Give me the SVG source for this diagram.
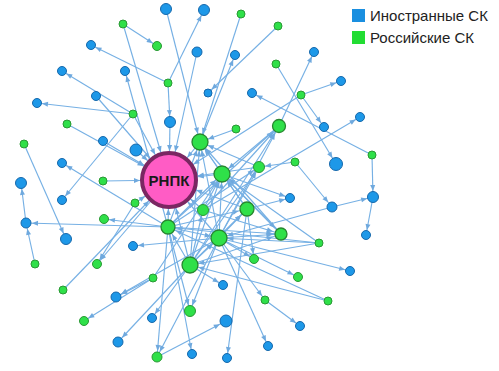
<svg xmlns="http://www.w3.org/2000/svg" width="499" height="371" viewBox="0 0 499 371">
<style>
.e{stroke:#76b0e4;stroke-width:1.15;fill:none}
.m4{marker-end:url(#m4)}.m5{marker-end:url(#m5)}.m6{marker-end:url(#m6)}.m8{marker-end:url(#m8)}.mR{marker-end:url(#mR)}
.b{fill:#1d98e8;stroke:#1668ab;stroke-width:1}
.g{fill:#2fe049;stroke:#2a9834;stroke-width:1}
.h{fill:#2fe049;stroke:#27862f;stroke-width:1.3}
.lg{font-family:"Liberation Sans",Arial,sans-serif;font-size:15px;fill:#222}
</style>
<defs>
<marker id="m4" markerUnits="userSpaceOnUse" markerWidth="8" markerHeight="6" refX="11" refY="2.5" orient="auto" overflow="visible"><path d="M0,0 L6,2.5 L0,5 Z" fill="#6fa9de"/></marker>
<marker id="m5" markerUnits="userSpaceOnUse" markerWidth="8" markerHeight="6" refX="12" refY="2.5" orient="auto" overflow="visible"><path d="M0,0 L6,2.5 L0,5 Z" fill="#6fa9de"/></marker>
<marker id="m6" markerUnits="userSpaceOnUse" markerWidth="8" markerHeight="6" refX="13" refY="2.5" orient="auto" overflow="visible"><path d="M0,0 L6,2.5 L0,5 Z" fill="#6fa9de"/></marker>
<marker id="m8" markerUnits="userSpaceOnUse" markerWidth="8" markerHeight="6" refX="14.5" refY="2.5" orient="auto" overflow="visible"><path d="M0,0 L6,2.5 L0,5 Z" fill="#6fa9de"/></marker>
<marker id="mR" markerUnits="userSpaceOnUse" markerWidth="8" markerHeight="6" refX="35" refY="2.5" orient="auto" overflow="visible"><path d="M0,0 L6,2.5 L0,5 Z" fill="#6fa9de"/></marker>
</defs>
<g id="connectors" class="e">
<line x1="123" y1="24" x2="157" y2="46" class="m4"/>
<line x1="123" y1="24" x2="169" y2="180" class="mR"/>
<line x1="166" y1="9" x2="200" y2="142" class="m8"/>
<line x1="168" y1="83" x2="204" y2="10" class="m5"/>
<line x1="168" y1="83" x2="91" y2="45" class="m4"/>
<line x1="168" y1="83" x2="170" y2="122" class="m5"/>
<line x1="170" y1="122" x2="169" y2="180" class="mR"/>
<line x1="197" y1="52" x2="169" y2="180" class="mR"/>
<line x1="241" y1="14" x2="200" y2="142" class="m8"/>
<line x1="200" y1="142" x2="235" y2="55" class="m4"/>
<line x1="278" y1="26" x2="208" y2="93" class="m4"/>
<line x1="133" y1="114" x2="62" y2="71" class="m4"/>
<line x1="133" y1="114" x2="37" y2="103" class="m4"/>
<line x1="133" y1="114" x2="169" y2="180" class="mR"/>
<line x1="133" y1="114" x2="62" y2="200" class="m4"/>
<line x1="168" y1="227" x2="125" y2="71" class="m4"/>
<line x1="96" y1="96" x2="169" y2="180" class="mR"/>
<line x1="67" y1="124" x2="169" y2="180" class="mR"/>
<line x1="103" y1="141" x2="169" y2="180" class="mR"/>
<line x1="136" y1="150" x2="169" y2="180" class="mR"/>
<line x1="24" y1="144" x2="66" y2="239" class="m5"/>
<line x1="168" y1="227" x2="62" y2="163" class="m4"/>
<line x1="103" y1="181" x2="169" y2="180" class="mR"/>
<line x1="26" y1="223" x2="21" y2="183" class="m5"/>
<line x1="168" y1="227" x2="26" y2="223" class="m5"/>
<line x1="35" y1="264" x2="26" y2="223" class="m5"/>
<line x1="168" y1="227" x2="104" y2="219" class="m4"/>
<line x1="169" y1="180" x2="97" y2="264" class="m4"/>
<line x1="135" y1="203" x2="97" y2="264" class="m4"/>
<line x1="63" y1="290" x2="169" y2="180" class="mR"/>
<line x1="219" y1="238" x2="116" y2="297" class="m5"/>
<line x1="153" y1="278" x2="116" y2="297" class="m5"/>
<line x1="153" y1="278" x2="222" y2="174" class="m8"/>
<line x1="219" y1="238" x2="133" y2="246" class="m4"/>
<line x1="190" y1="265" x2="152" y2="318" class="m4"/>
<line x1="190" y1="265" x2="118" y2="342" class="m5"/>
<line x1="153" y1="278" x2="84" y2="321" class="m4"/>
<line x1="168" y1="227" x2="157" y2="357" class="m5"/>
<line x1="219" y1="238" x2="157" y2="357" class="m5"/>
<line x1="168" y1="227" x2="192" y2="354" class="m4"/>
<line x1="247" y1="209" x2="227" y2="358" class="m4"/>
<line x1="157" y1="357" x2="226" y2="321" class="m6"/>
<line x1="190" y1="265" x2="223" y2="285" class="m4"/>
<line x1="168" y1="227" x2="190" y2="311" class="m5"/>
<line x1="219" y1="238" x2="190" y2="311" class="m5"/>
<line x1="219" y1="238" x2="265" y2="300" class="m4"/>
<line x1="265" y1="300" x2="300" y2="326" class="m4"/>
<line x1="219" y1="238" x2="268" y2="346" class="m4"/>
<line x1="328" y1="301" x2="168" y2="227" class="m8"/>
<line x1="328" y1="301" x2="190" y2="265" class="m8"/>
<line x1="219" y1="238" x2="298" y2="277" class="m4"/>
<line x1="219" y1="238" x2="350" y2="271" class="m4"/>
<line x1="319" y1="243" x2="219" y2="238" class="m8"/>
<line x1="319" y1="243" x2="168" y2="227" class="m8"/>
<line x1="319" y1="243" x2="190" y2="265" class="m8"/>
<line x1="319" y1="243" x2="222" y2="174" class="m8"/>
<line x1="247" y1="209" x2="254" y2="259" class="m4"/>
<line x1="222" y1="174" x2="290" y2="198" class="m4"/>
<line x1="247" y1="209" x2="290" y2="198" class="m4"/>
<line x1="295" y1="162" x2="332" y2="207" class="m5"/>
<line x1="332" y1="207" x2="373" y2="197" class="m5"/>
<line x1="332" y1="207" x2="219" y2="238" class="m8"/>
<line x1="372" y1="155" x2="373" y2="197" class="m5"/>
<line x1="373" y1="197" x2="366" y2="235" class="m4"/>
<line x1="372" y1="155" x2="252" y2="93" class="m4"/>
<line x1="203" y1="210" x2="360" y2="117" class="m4"/>
<line x1="295" y1="162" x2="259" y2="167" class="m5"/>
<line x1="276" y1="64" x2="336" y2="164" class="m6"/>
<line x1="301" y1="95" x2="324" y2="127" class="m4"/>
<line x1="301" y1="95" x2="341" y2="81" class="m4"/>
<line x1="279" y1="126" x2="314" y2="52" class="m4"/>
<line x1="301" y1="95" x2="169" y2="180" class="mR"/>
<line x1="236" y1="129" x2="200" y2="142" class="m8"/>
<line x1="200" y1="142" x2="169" y2="180" class="mR"/>
<line x1="222" y1="174" x2="169" y2="180" class="mR"/>
<line x1="168" y1="227" x2="169" y2="180" class="mR"/>
<line x1="219" y1="238" x2="169" y2="180" class="mR"/>
<line x1="190" y1="265" x2="169" y2="180" class="mR"/>
<line x1="203" y1="210" x2="169" y2="180" class="mR"/>
<line x1="259" y1="167" x2="169" y2="180" class="mR"/>
<line x1="135" y1="203" x2="169" y2="180" class="mR"/>
<line x1="247" y1="209" x2="169" y2="180" class="mR"/>
<line x1="222" y1="174" x2="200" y2="142" class="m8"/>
<line x1="168" y1="227" x2="200" y2="142" class="m8"/>
<line x1="219" y1="238" x2="200" y2="142" class="m8"/>
<line x1="190" y1="265" x2="200" y2="142" class="m8"/>
<line x1="247" y1="209" x2="200" y2="142" class="m8"/>
<line x1="259" y1="167" x2="200" y2="142" class="m8"/>
<line x1="281" y1="234" x2="200" y2="142" class="m8"/>
<line x1="168" y1="227" x2="222" y2="174" class="m8"/>
<line x1="219" y1="238" x2="222" y2="174" class="m8"/>
<line x1="190" y1="265" x2="222" y2="174" class="m8"/>
<line x1="247" y1="209" x2="222" y2="174" class="m8"/>
<line x1="281" y1="234" x2="222" y2="174" class="m8"/>
<line x1="203" y1="210" x2="222" y2="174" class="m8"/>
<line x1="219" y1="238" x2="279" y2="126" class="m8"/>
<line x1="190" y1="265" x2="279" y2="126" class="m8"/>
<line x1="168" y1="227" x2="279" y2="126" class="m8"/>
<line x1="203" y1="210" x2="279" y2="126" class="m8"/>
<line x1="168" y1="227" x2="247" y2="209" class="m8"/>
<line x1="219" y1="238" x2="247" y2="209" class="m8"/>
<line x1="190" y1="265" x2="247" y2="209" class="m8"/>
<line x1="168" y1="227" x2="281" y2="234" class="m8"/>
<line x1="219" y1="238" x2="281" y2="234" class="m8"/>
<line x1="190" y1="265" x2="281" y2="234" class="m8"/>
<line x1="203" y1="210" x2="281" y2="234" class="m8"/>
<line x1="222" y1="174" x2="281" y2="234" class="m8"/>
<line x1="190" y1="265" x2="219" y2="238" class="m8"/>
<line x1="168" y1="227" x2="219" y2="238" class="m8"/>
<line x1="190" y1="265" x2="168" y2="227" class="m8"/>
<line x1="219" y1="238" x2="259" y2="167" class="m5"/>
<line x1="190" y1="265" x2="259" y2="167" class="m5"/>
<line x1="168" y1="227" x2="259" y2="167" class="m5"/>
<line x1="219" y1="238" x2="254" y2="259" class="m4"/>
<line x1="190" y1="265" x2="203" y2="210" class="m5"/>
<line x1="279" y1="126" x2="222" y2="174" class="m8"/>
</g>
<g id="b1"><circle class="b" cx="166" cy="9" r="5.5"/></g>
<g id="b2"><circle class="b" cx="204" cy="10" r="5.5"/></g>
<g id="b3"><circle class="b" cx="91" cy="45" r="4.5"/></g>
<g id="b4"><circle class="b" cx="197" cy="52" r="5"/></g>
<g id="b5"><circle class="b" cx="235" cy="55" r="4.5"/></g>
<g id="b6"><circle class="b" cx="62" cy="71" r="4.5"/></g>
<g id="b7"><circle class="b" cx="125" cy="71" r="4.5"/></g>
<g id="b8"><circle class="b" cx="208" cy="93" r="4"/></g>
<g id="b9"><circle class="b" cx="252" cy="93" r="4.5"/></g>
<g id="b10"><circle class="b" cx="96" cy="96" r="4.5"/></g>
<g id="b11"><circle class="b" cx="37" cy="103" r="4.5"/></g>
<g id="b12"><circle class="b" cx="170" cy="122" r="5.5"/></g>
<g id="b13"><circle class="b" cx="103" cy="141" r="4.5"/></g>
<g id="b14"><circle class="b" cx="136" cy="150" r="6"/></g>
<g id="b15"><circle class="b" cx="62" cy="163" r="4.5"/></g>
<g id="b16"><circle class="b" cx="21" cy="183" r="5.5"/></g>
<g id="b17"><circle class="b" cx="62" cy="200" r="4.5"/></g>
<g id="b18"><circle class="b" cx="26" cy="223" r="5"/></g>
<g id="b19"><circle class="b" cx="66" cy="239" r="5.5"/></g>
<g id="b20"><circle class="b" cx="133" cy="246" r="4.5"/></g>
<g id="b21"><circle class="b" cx="116" cy="297" r="5"/></g>
<g id="b22"><circle class="b" cx="152" cy="318" r="4.5"/></g>
<g id="b23"><circle class="b" cx="118" cy="342" r="5"/></g>
<g id="b24"><circle class="b" cx="192" cy="354" r="4.5"/></g>
<g id="b25"><circle class="b" cx="227" cy="358" r="4.5"/></g>
<g id="b26"><circle class="b" cx="226" cy="321" r="6"/></g>
<g id="b27"><circle class="b" cx="223" cy="285" r="4.5"/></g>
<g id="b28"><circle class="b" cx="268" cy="346" r="4.5"/></g>
<g id="b29"><circle class="b" cx="300" cy="326" r="4.5"/></g>
<g id="b30"><circle class="b" cx="350" cy="271" r="4.5"/></g>
<g id="b31"><circle class="b" cx="366" cy="235" r="4.5"/></g>
<g id="b32"><circle class="b" cx="332" cy="207" r="5"/></g>
<g id="b33"><circle class="b" cx="373" cy="197" r="5.5"/></g>
<g id="b34"><circle class="b" cx="290" cy="198" r="4.5"/></g>
<g id="b35"><circle class="b" cx="336" cy="164" r="6.5"/></g>
<g id="b36"><circle class="b" cx="324" cy="127" r="4.5"/></g>
<g id="b37"><circle class="b" cx="360" cy="117" r="4.5"/></g>
<g id="b38"><circle class="b" cx="341" cy="81" r="4.5"/></g>
<g id="b39"><circle class="b" cx="314" cy="52" r="4.5"/></g>
<g id="g1"><circle class="g" cx="123" cy="24" r="4"/></g>
<g id="g2"><circle class="g" cx="157" cy="46" r="4.5"/></g>
<g id="g3"><circle class="g" cx="241" cy="14" r="4"/></g>
<g id="g4"><circle class="g" cx="278" cy="26" r="4"/></g>
<g id="g5"><circle class="g" cx="168" cy="83" r="4"/></g>
<g id="g6"><circle class="g" cx="276" cy="64" r="4"/></g>
<g id="g7"><circle class="g" cx="301" cy="95" r="4"/></g>
<g id="g8"><circle class="g" cx="133" cy="114" r="4"/></g>
<g id="g9"><circle class="g" cx="67" cy="124" r="4"/></g>
<g id="g10"><circle class="g" cx="24" cy="144" r="4"/></g>
<g id="g11"><circle class="g" cx="236" cy="129" r="4"/></g>
<g id="g12"><circle class="g" cx="372" cy="155" r="4"/></g>
<g id="g13"><circle class="g" cx="295" cy="162" r="4"/></g>
<g id="g14"><circle class="g" cx="103" cy="181" r="4"/></g>
<g id="g15"><circle class="g" cx="135" cy="203" r="4"/></g>
<g id="g16"><circle class="g" cx="104" cy="219" r="4.5"/></g>
<g id="g17"><circle class="g" cx="35" cy="264" r="4"/></g>
<g id="g18"><circle class="g" cx="97" cy="264" r="4.5"/></g>
<g id="g19"><circle class="g" cx="63" cy="290" r="4"/></g>
<g id="g20"><circle class="g" cx="153" cy="278" r="4"/></g>
<g id="g21"><circle class="g" cx="84" cy="321" r="4.5"/></g>
<g id="g22"><circle class="g" cx="190" cy="311" r="5.5"/></g>
<g id="g23"><circle class="g" cx="157" cy="357" r="5"/></g>
<g id="g24"><circle class="g" cx="254" cy="259" r="4.5"/></g>
<g id="g25"><circle class="g" cx="298" cy="277" r="4.5"/></g>
<g id="g26"><circle class="g" cx="265" cy="300" r="4"/></g>
<g id="g27"><circle class="g" cx="328" cy="301" r="4"/></g>
<g id="g28"><circle class="g" cx="319" cy="243" r="4"/></g>
<g id="g29"><circle class="g" cx="259" cy="167" r="5.5"/></g>
<g id="g30"><circle class="g" cx="203" cy="210" r="5.5"/></g>
<g id="h1"><circle class="h" cx="200" cy="142" r="8"/></g>
<g id="h2"><circle class="h" cx="222" cy="174" r="8"/></g>
<g id="h3"><circle class="h" cx="168" cy="227" r="7"/></g>
<g id="h4"><circle class="h" cx="219" cy="238" r="8"/></g>
<g id="h5"><circle class="h" cx="190" cy="265" r="8"/></g>
<g id="h6"><circle class="h" cx="247" cy="209" r="7"/></g>
<g id="h7"><circle class="h" cx="279" cy="126" r="6.5"/></g>
<g id="h8"><circle class="h" cx="281" cy="234" r="6"/></g>
<g id="rnpk">
<circle cx="169" cy="180" r="27" fill="#ff5cc5" stroke="#7a2762" stroke-width="4"/>
<text x="169" y="185.5" text-anchor="middle" font-family="'Liberation Sans',Arial,sans-serif" font-size="15" font-weight="bold" fill="#1a1a1a">РНПК</text>
</g>
<g id="legend">
<rect x="352" y="9" width="13" height="13" fill="#1a8fe0"/>
<text class="lg" x="370" y="21">Иностранные СК</text>
<rect x="352" y="31" width="13" height="13" fill="#22dd33"/>
<text class="lg" x="370" y="43">Российские СК</text>
</g>
</svg>
